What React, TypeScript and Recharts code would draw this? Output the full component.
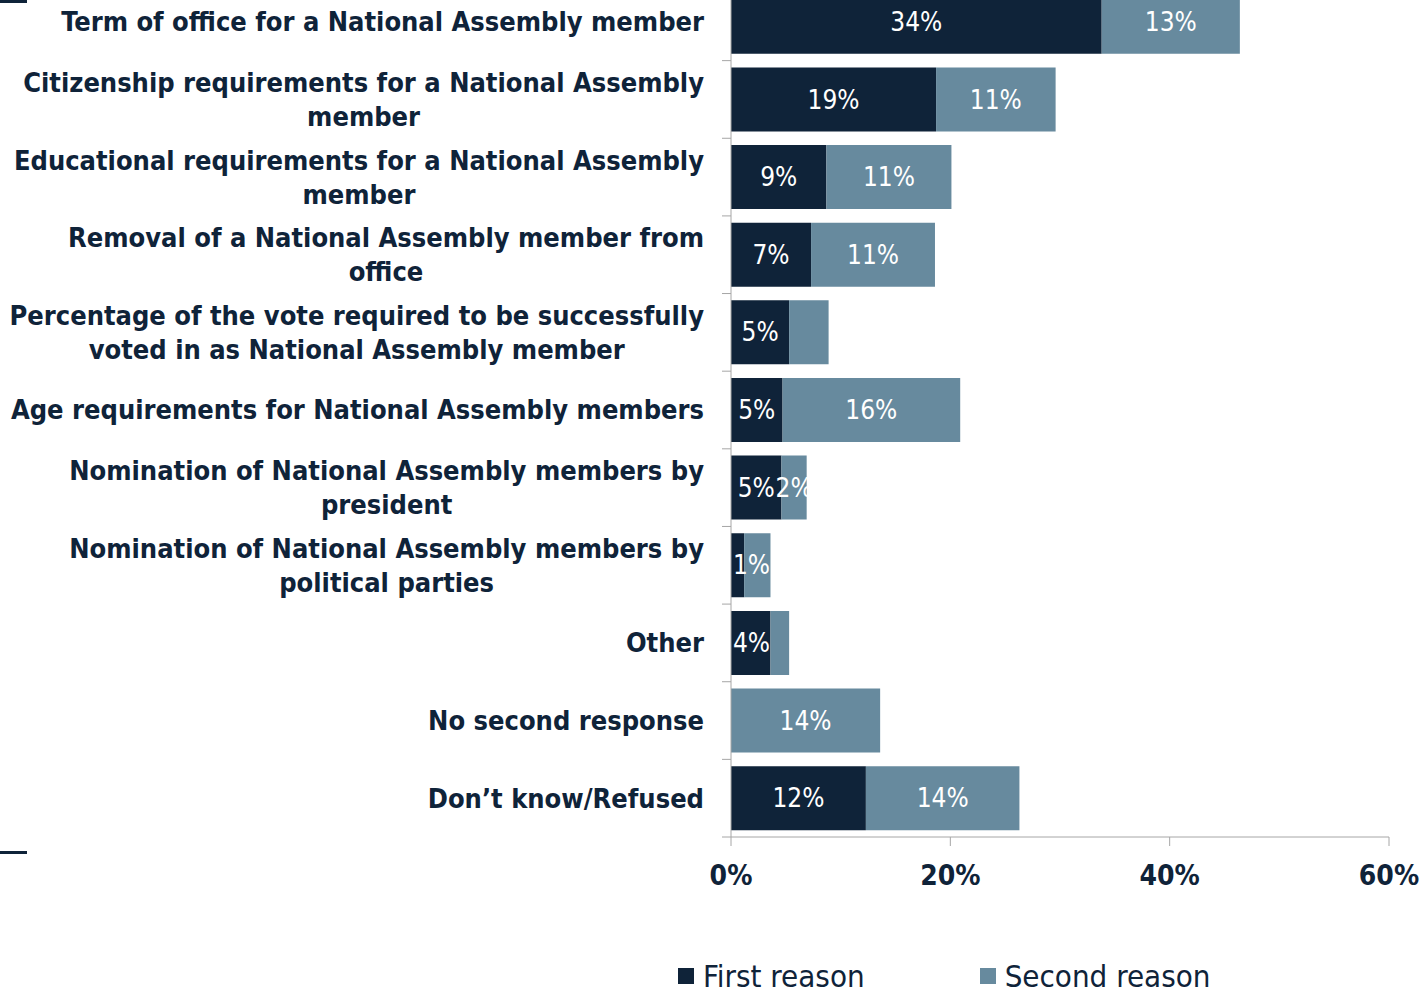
import React from "react";
import { BarChart, Bar, XAxis, YAxis, Legend, LabelList } from "recharts";

const categories = [
  "Term of office for a National Assembly member",
  "Citizenship requirements for a National Assembly\nmember",
  "Educational requirements for a National Assembly\nmember",
  "Removal of a National Assembly member from\noffice",
  "Percentage of the vote required to be successfully\nvoted in as National Assembly member",
  "Age requirements for National Assembly members",
  "Nomination of National Assembly members by\npresident",
  "Nomination of National Assembly members by\npolitical parties",
  "Other",
  "No second response",
  "Don\u2019t know/Refused",
];

const firstReason = [33.8, 18.7, 8.7, 7.3, 5.3, 4.7, 4.6, 1.2, 3.6, 0, 12.3];
const secondReason = [12.6, 10.9, 11.4, 11.3, 3.6, 16.2, 2.3, 2.4, 1.7, 13.6, 14.0];

const firstLabels = ["34%", "19%", "9%", "7%", "5%", "5%", "5%", "1%", "4%", "", "12%"];
const secondLabels = ["13%", "11%", "11%", "11%", "", "16%", "2%", "", "", "14%", "14%"];

const xTicks = [0, 20, 40, 60];

const NAVY = "#0f2339";
const STEEL = "#678a9e";
const AXIS = "#a6a6a6";
const FONT = "'DejaVu Sans Condensed', 'Liberation Sans Narrow', 'Open Sans', sans-serif";

const W = 1423;
const H = 1007;
const Y_AXIS_W = 731;
const X_AXIS_H = 113;
const LEGEND_H = 40;
const PLOT_H = H - X_AXIS_H - LEGEND_H;
const BAND = PLOT_H / categories.length;

const CAT_SIZE = 27;
const CAT_LINE = 34;
const BAR_LABEL_SIZE = 26;

const data = categories.map((name, i) => ({
  name,
  first: firstReason[i],
  second: secondReason[i],
  firstLabel: firstLabels[i],
  secondLabel: secondLabels[i],
}));

let ctx: CanvasRenderingContext2D | null = null;
function measure(text: string, font: string) {
  if (!ctx) ctx = document.createElement("canvas").getContext("2d");
  if (!ctx) return text.length * 14;
  ctx.font = font;
  return ctx.measureText(text).width;
}

function CategoryTick({ y, payload }: any) {
  const lines = String(payload.value).split("\n");
  const right = Y_AXIS_W - 27;
  const font = `bold ${CAT_SIZE}px ${FONT}`;
  const widest = Math.max(...lines.map((l) => measure(l, font)));
  const cx = right - widest / 2;
  const top = y - ((lines.length - 1) * CAT_LINE) / 2;
  return (
    <g>
      <line x1={Y_AXIS_W - 9} x2={Y_AXIS_W} y1={y + BAND / 2} y2={y + BAND / 2} stroke={AXIS} />
      <text textAnchor="middle" fontFamily={FONT} fontWeight={700} fontSize={CAT_SIZE} fill={NAVY}>
        {lines.map((l, i) => (
          <tspan key={i} x={cx} y={top + i * CAT_LINE} dy="0.35em">
            {l}
          </tspan>
        ))}
      </text>
    </g>
  );
}

function BarLabel(props: any) {
  const { x, y, width, height, value } = props;
  if (!value) return null;
  const text = String(value);
  const w = measure(text, `${BAR_LABEL_SIZE}px ${FONT}`);
  let cx = Number(x) + Number(width) / 2;
  // keep labels of thin bars off the axis line
  if (cx - w / 2 < Y_AXIS_W + 2) cx = Y_AXIS_W + 2 + w / 2;
  return (
    <text
      x={cx}
      y={Number(y) + Number(height) / 2}
      dy="0.35em"
      textAnchor="middle"
      fill="#ffffff"
      fontSize={BAR_LABEL_SIZE}
      fontFamily={FONT}
    >
      {text}
    </text>
  );
}

function LegendContent({ payload }: any) {
  return (
    <div
      style={{
        display: "flex",
        alignItems: "center",
        height: LEGEND_H,
        fontFamily: FONT,
        fontSize: 31,
        color: NAVY,
        whiteSpace: "nowrap",
      }}
    >
      {(payload || []).map((e: any, i: number) => (
        <div key={e.value} style={{ display: "flex", alignItems: "center", marginRight: i === 0 ? 115 : 0 }}>
          <span style={{ display: "inline-block", width: 16, height: 16, background: e.color, marginRight: 9 }} />
          {e.value}
        </div>
      ))}
    </div>
  );
}

export default function App() {
  return (
    <div
      style={{
        position: "absolute",
        left: 0,
        top: 0,
        width: 1423,
        height: 990,
        overflow: "hidden",
        background: "#fff",
      }}
    >
      <div style={{ position: "absolute", left: 0, top: 0, width: 27, height: 3, background: NAVY }} />
      <div style={{ position: "absolute", left: 0, top: 851, width: 27, height: 3, background: NAVY }} />
      <div style={{ position: "absolute", left: 0, top: -17 }}>
        <BarChart
          width={W}
          height={H}
          data={data}
          layout="vertical"
          barCategoryGap="8.75%"
          margin={{ top: 0, right: 34, left: 0, bottom: 0 }}
        >
          <XAxis
            type="number"
            domain={[0, 60]}
            ticks={xTicks}
            tickFormatter={(v: number) => `${v}%`}
            height={X_AXIS_H}
            tickSize={9}
            tickMargin={19}
            tickLine={{ stroke: AXIS }}
            axisLine={{ stroke: AXIS }}
            tick={{ fill: NAVY, fontSize: 28, fontWeight: 700, fontFamily: FONT }}
          />
          <YAxis
            type="category"
            dataKey="name"
            width={Y_AXIS_W}
            interval={0}
            tickLine={false}
            axisLine={{ stroke: AXIS }}
            tick={<CategoryTick />}
          />
          <Legend
            verticalAlign="bottom"
            content={<LegendContent />}
            wrapperStyle={{ top: 973, left: 678, width: "auto", height: LEGEND_H }}
          />
          <Bar dataKey="first" name="First reason" stackId="a" fill={NAVY} isAnimationActive={false}>
            <LabelList dataKey="firstLabel" content={<BarLabel />} />
          </Bar>
          <Bar dataKey="second" name="Second reason" stackId="a" fill={STEEL} isAnimationActive={false}>
            <LabelList dataKey="secondLabel" content={<BarLabel />} />
          </Bar>
        </BarChart>
      </div>
    </div>
  );
}
